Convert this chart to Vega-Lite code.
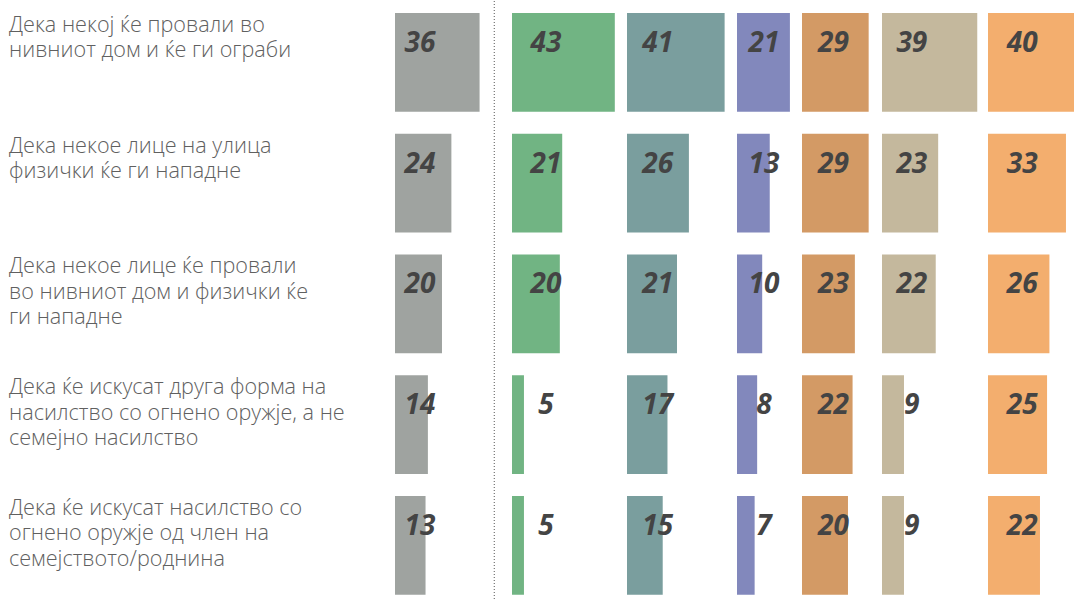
{
  "$schema": "https://vega.github.io/schema/vega-lite/v6.json",
  "padding": 0,
  "autosize": {"type": "pad"},
  "spacing": 0,
  "config": {"view": {"stroke": null}, "concat": {"spacing": 0}, "font": "Open Sans"},
  "datasets": {
    "vals": [
      {"q": 1, "g": "c0", "v": 36}, {"q": 1, "g": "c1", "v": 43}, {"q": 1, "g": "c2", "v": 41}, {"q": 1, "g": "c3", "v": 21}, {"q": 1, "g": "c4", "v": 29}, {"q": 1, "g": "c5", "v": 39}, {"q": 1, "g": "c6", "v": 40},
      {"q": 2, "g": "c0", "v": 24}, {"q": 2, "g": "c1", "v": 21}, {"q": 2, "g": "c2", "v": 26}, {"q": 2, "g": "c3", "v": 13}, {"q": 2, "g": "c4", "v": 29}, {"q": 2, "g": "c5", "v": 23}, {"q": 2, "g": "c6", "v": 33},
      {"q": 3, "g": "c0", "v": 20}, {"q": 3, "g": "c1", "v": 20}, {"q": 3, "g": "c2", "v": 21}, {"q": 3, "g": "c3", "v": 10}, {"q": 3, "g": "c4", "v": 23}, {"q": 3, "g": "c5", "v": 22}, {"q": 3, "g": "c6", "v": 26},
      {"q": 4, "g": "c0", "v": 14}, {"q": 4, "g": "c1", "v": 5}, {"q": 4, "g": "c2", "v": 17}, {"q": 4, "g": "c3", "v": 8}, {"q": 4, "g": "c4", "v": 22}, {"q": 4, "g": "c5", "v": 9}, {"q": 4, "g": "c6", "v": 25},
      {"q": 5, "g": "c0", "v": 13}, {"q": 5, "g": "c1", "v": 5}, {"q": 5, "g": "c2", "v": 15}, {"q": 5, "g": "c3", "v": 7}, {"q": 5, "g": "c4", "v": 20}, {"q": 5, "g": "c5", "v": 9}, {"q": 5, "g": "c6", "v": 22}
    ],
    "qs": [
      {"q": 1, "lines": ["Дека некој ќе провали во", "нивниот дом и ќе ги ограби"]},
      {"q": 2, "lines": ["Дека некое лице на улица", "физички ќе ги нападне"]},
      {"q": 3, "lines": ["Дека некое лице ќе провали", "во нивниот дом и физички ќе", "ги нападне"]},
      {"q": 4, "lines": ["Дека ќе искусат друга форма на", "насилство со огнено оружје, а не", "семејно насилство"]},
      {"q": 5, "lines": ["Дека ќе искусат насилство со", "огнено оружје од член на", "семејството/роднина"]}
    ]
  },
  "resolve": {"scale": {"x": "independent", "y": "independent"}},
  "hconcat": [
    {
      "width": 395, "height": 601,
      "data": {"name": "qs"},
      "mark": {"type": "text", "align": "left", "baseline": "top", "dy": 2, "fontSize": 21.6, "fontWeight": 300, "lineHeight": 25.3, "color": "#606060"},
      "encoding": {
        "x": {"value": 9},
        "y": {"field": "q", "type": "ordinal", "bandPosition": 0, "axis": null, "scale": {"type": "band", "domain": [1, 2, 3, 4, 5], "paddingInner": 0.183, "paddingOuter": 0.08, "align": 0.62}},
        "text": {"field": "lines"}
      }
    },
    {
      "width": 117, "height": 601,
      "layer": [
        {
          "data": {"name": "vals"},
          "transform": [{"filter": "datum.g === 'c0'"}],
          "mark": {"type": "bar", "color": "#9fa3a0", "clip": true},
          "encoding": {
            "x": {"field": "v", "type": "quantitative", "axis": null, "scale": {"domain": [0, 49.8], "nice": false, "zero": true}},
            "y": {"field": "q", "type": "ordinal", "axis": null, "scale": {"type": "band", "domain": [1, 2, 3, 4, 5], "paddingInner": 0.183, "paddingOuter": 0.08, "align": 0.62}}
          }
        },
        {
          "data": {"name": "vals"},
          "transform": [{"filter": "datum.g === 'c0'"}],
          "mark": {"type": "text", "align": "center", "baseline": "alphabetic", "dy": 39, "fontSize": 28, "fontWeight": "bold", "fontStyle": "italic", "color": "#444444"},
          "encoding": {
            "x": {"datum": 10.65, "type": "quantitative"},
            "y": {"field": "q", "type": "ordinal", "bandPosition": 0, "axis": null},
            "text": {"field": "v", "type": "quantitative"}
          }
        },
        {
          "data": {"values": [{"k": 1}]},
          "mark": {"type": "rule", "color": "#555555", "strokeDash": [1, 2], "strokeWidth": 1},
          "encoding": {"x": {"datum": 42.25, "type": "quantitative"}}
        }
      ]
    },
    {
      "width": 115, "height": 601,
      "data": {"name": "vals"},
      "transform": [{"filter": "datum.g === 'c1'"}],
      "layer": [
        {
          "mark": {"type": "bar", "color": "#71b483", "clip": true},
          "encoding": {
            "x": {"field": "v", "type": "quantitative", "axis": null, "scale": {"domain": [0, 48.1], "nice": false, "zero": true}},
            "y": {"field": "q", "type": "ordinal", "axis": null, "scale": {"type": "band", "domain": [1, 2, 3, 4, 5], "paddingInner": 0.183, "paddingOuter": 0.08, "align": 0.62}}
          }
        },
        {
          "mark": {"type": "text", "align": "center", "baseline": "alphabetic", "dy": 39, "fontSize": 28, "fontWeight": "bold", "fontStyle": "italic", "color": "#444444"},
          "encoding": {
            "x": {"datum": 14.2, "type": "quantitative"},
            "y": {"field": "q", "type": "ordinal", "bandPosition": 0, "axis": null},
            "text": {"field": "v", "type": "quantitative"}
          }
        }
      ]
    },
    {
      "width": 110, "height": 601,
      "data": {"name": "vals"},
      "transform": [{"filter": "datum.g === 'c2'"}],
      "layer": [
        {
          "mark": {"type": "bar", "color": "#7a9e9e", "clip": true},
          "encoding": {
            "x": {"field": "v", "type": "quantitative", "axis": null, "scale": {"domain": [0, 46.2], "nice": false, "zero": true}},
            "y": {"field": "q", "type": "ordinal", "axis": null, "scale": {"type": "band", "domain": [1, 2, 3, 4, 5], "paddingInner": 0.183, "paddingOuter": 0.08, "align": 0.62}}
          }
        },
        {
          "mark": {"type": "text", "align": "center", "baseline": "alphabetic", "dy": 39, "fontSize": 28, "fontWeight": "bold", "fontStyle": "italic", "color": "#444444"},
          "encoding": {
            "x": {"datum": 12.9, "type": "quantitative"},
            "y": {"field": "q", "type": "ordinal", "bandPosition": 0, "axis": null},
            "text": {"field": "v", "type": "quantitative"}
          }
        }
      ]
    },
    {
      "width": 65, "height": 601,
      "data": {"name": "vals"},
      "transform": [{"filter": "datum.g === 'c3'"}],
      "layer": [
        {
          "mark": {"type": "bar", "color": "#8288bc", "clip": true},
          "encoding": {
            "x": {"field": "v", "type": "quantitative", "axis": null, "scale": {"domain": [0, 25.8], "nice": false, "zero": true}},
            "y": {"field": "q", "type": "ordinal", "axis": null, "scale": {"type": "band", "domain": [1, 2, 3, 4, 5], "paddingInner": 0.183, "paddingOuter": 0.08, "align": 0.62}}
          }
        },
        {
          "mark": {"type": "text", "align": "center", "baseline": "alphabetic", "dy": 39, "fontSize": 28, "fontWeight": "bold", "fontStyle": "italic", "color": "#444444"},
          "encoding": {
            "x": {"datum": 10.7, "type": "quantitative"},
            "y": {"field": "q", "type": "ordinal", "bandPosition": 0, "axis": null},
            "text": {"field": "v", "type": "quantitative"}
          }
        }
      ]
    },
    {
      "width": 80, "height": 601,
      "data": {"name": "vals"},
      "transform": [{"filter": "datum.g === 'c4'"}],
      "layer": [
        {
          "mark": {"type": "bar", "color": "#d39a65", "clip": true},
          "encoding": {
            "x": {"field": "v", "type": "quantitative", "axis": null, "scale": {"domain": [0, 34.8], "nice": false, "zero": true}},
            "y": {"field": "q", "type": "ordinal", "axis": null, "scale": {"type": "band", "domain": [1, 2, 3, 4, 5], "paddingInner": 0.183, "paddingOuter": 0.08, "align": 0.62}}
          }
        },
        {
          "mark": {"type": "text", "align": "center", "baseline": "alphabetic", "dy": 39, "fontSize": 28, "fontWeight": "bold", "fontStyle": "italic", "color": "#444444"},
          "encoding": {
            "x": {"datum": 13.7, "type": "quantitative"},
            "y": {"field": "q", "type": "ordinal", "bandPosition": 0, "axis": null},
            "text": {"field": "v", "type": "quantitative"}
          }
        }
      ]
    },
    {
      "width": 106, "height": 601,
      "data": {"name": "vals"},
      "transform": [{"filter": "datum.g === 'c5'"}],
      "layer": [
        {
          "mark": {"type": "bar", "color": "#c4b89d", "clip": true},
          "encoding": {
            "x": {"field": "v", "type": "quantitative", "axis": null, "scale": {"domain": [0, 43.4], "nice": false, "zero": true}},
            "y": {"field": "q", "type": "ordinal", "axis": null, "scale": {"type": "band", "domain": [1, 2, 3, 4, 5], "paddingInner": 0.183, "paddingOuter": 0.08, "align": 0.62}}
          }
        },
        {
          "mark": {"type": "text", "align": "center", "baseline": "alphabetic", "dy": 39, "fontSize": 28, "fontWeight": "bold", "fontStyle": "italic", "color": "#444444"},
          "encoding": {
            "x": {"datum": 12.2, "type": "quantitative"},
            "y": {"field": "q", "type": "ordinal", "bandPosition": 0, "axis": null},
            "text": {"field": "v", "type": "quantitative"}
          }
        }
      ]
    },
    {
      "width": 86, "height": 601,
      "data": {"name": "vals"},
      "transform": [{"filter": "datum.g === 'c6'"}],
      "layer": [
        {
          "mark": {"type": "bar", "color": "#f3ae6e", "clip": true},
          "encoding": {
            "x": {"field": "v", "type": "quantitative", "axis": null, "scale": {"domain": [0, 36.4], "nice": false, "zero": true}},
            "y": {"field": "q", "type": "ordinal", "axis": null, "scale": {"type": "band", "domain": [1, 2, 3, 4, 5], "paddingInner": 0.183, "paddingOuter": 0.08, "align": 0.62}}
          }
        },
        {
          "mark": {"type": "text", "align": "center", "baseline": "alphabetic", "dy": 39, "fontSize": 28, "fontWeight": "bold", "fontStyle": "italic", "color": "#444444"},
          "encoding": {
            "x": {"datum": 14.5, "type": "quantitative"},
            "y": {"field": "q", "type": "ordinal", "bandPosition": 0, "axis": null},
            "text": {"field": "v", "type": "quantitative"}
          }
        }
      ]
    }
  ]
}
